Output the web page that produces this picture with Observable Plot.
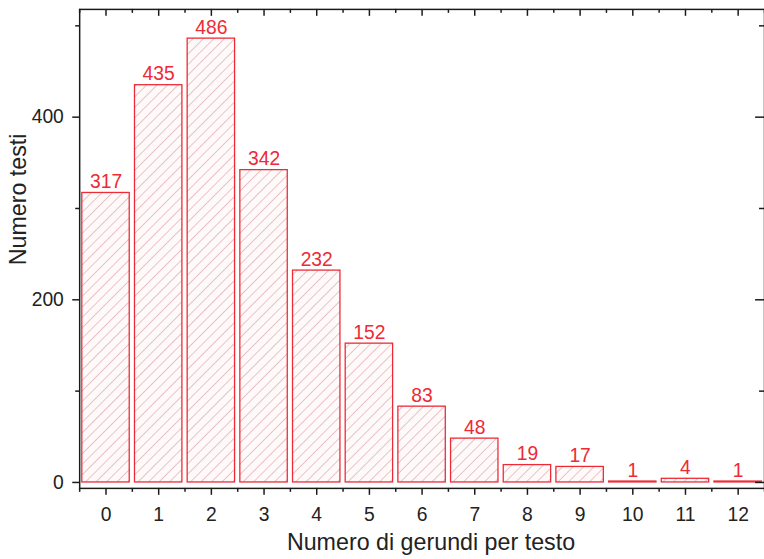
<!DOCTYPE html>
<html><head><meta charset="utf-8">
<script src="https://cdn.jsdelivr.net/npm/d3@7"></script>
<script src="https://cdn.jsdelivr.net/npm/@observablehq/plot@0.6"></script>
<style>
html,body{margin:0;padding:0;background:#fff;overflow:hidden;width:764px;height:559px}
</style>
</head><body><div id="chart"></div>
<script>
// Data
const gerundi = [0, 1, 2, 3, 4, 5, 6, 7, 8, 9, 10, 11, 12];
const testi = [317, 435, 486, 342, 232, 152, 83, 48, 19, 17, 1, 4, 1];
const yMajorTicks = [0, 200, 400];
const yMinorTicks = [100, 300, 500];
const xMinorTicks = [-0.5, 0.5, 1.5, 2.5, 3.5, 4.5, 5.5, 6.5, 7.5, 8.5, 9.5, 10.5, 11.5, 12.5];
const xTitle = "Numero di gerundi per testo";
const yTitle = "Numero testi";

const rows = gerundi.map((g, i) => ({g, n: testi[i]}));

const W = 772, H = 559, ML = 80, MR = 0, MT = 9, MB = 66;
const innerW = W - ML - MR, innerH = H - MT - MB;
const axisColor = "#1a1a1a";
const red = "#ee2a36";

const svg = Plot.plot({
  width: W, height: H,
  marginLeft: ML, marginRight: MR, marginTop: MT, marginBottom: MB,
  style: {fontFamily: "'Liberation Sans', Arial, sans-serif", fontSize: "19px", color: "#222", background: "#fff", overflow: "visible"},
  x: {type: "linear", domain: [-0.5, 12.5]},
  y: {domain: [-6.5, 518]},
  marks: [
    Plot.rectY(rows, {x1: d => d.g - 0.45, x2: d => d.g + 0.45, y: "n", fill: "url(#hatch)", stroke: red, strokeWidth: 1.3}),
    Plot.text(rows, {x: "g", y: "n", text: d => String(d.n), fill: red, fontSize: 19.5, lineAnchor: "bottom", dy: -5}),
    Plot.frame({stroke: axisColor, strokeWidth: 1.5}),
    // bottom axis
    Plot.axisX({ticks: gerundi, tickSize: 7, tickPadding: 12, fontSize: 19.5, tickFormat: d => String(d), label: null, stroke: axisColor, strokeWidth: 1.5, fill: "#222"}),
    Plot.axisX({ticks: xMinorTicks, tickSize: 4, tickFormat: () => "", label: null, stroke: axisColor, strokeWidth: 1.5}),
    // left axis
    Plot.axisY({ticks: yMajorTicks, tickSize: 7, tickPadding: 9, fontSize: 19.5, tickFormat: d => String(d), label: null, stroke: axisColor, strokeWidth: 1.5, fill: "#222"}),
    Plot.axisY({ticks: yMinorTicks, tickSize: 4, tickFormat: () => "", label: null, stroke: axisColor, strokeWidth: 1.5}),
    // top inward ticks
    Plot.tickX(gerundi, {x: d => d, insetBottom: innerH - 7, stroke: axisColor, strokeWidth: 1.5}),
    Plot.tickX(xMinorTicks, {x: d => d, insetBottom: innerH - 4, stroke: axisColor, strokeWidth: 1.5}),
    // right inward ticks
    Plot.tickY(yMajorTicks, {y: d => d, insetLeft: innerW - 9, stroke: axisColor, strokeWidth: 1.5}),
    Plot.tickY(yMinorTicks, {y: d => d, insetLeft: innerW - 5, stroke: axisColor, strokeWidth: 1.5}),
    // titles
    Plot.text([xTitle], {frameAnchor: "bottom", dy: 62, dx: 9, fontSize: 23.5, fill: "#222"}),
    Plot.text([yTitle], {frameAnchor: "left", textAnchor: "middle", dx: -62, dy: -50, rotate: -90, fontSize: 23.5, fill: "#222"})
  ]
});

const defs = d3.select(svg).insert("defs", ":first-child");
const pat = defs.append("pattern")
  .attr("id", "hatch")
  .attr("patternUnits", "userSpaceOnUse")
  .attr("width", 7.5).attr("height", 7.5)
  .attr("patternTransform", "rotate(45)");
pat.append("rect").attr("width", 7.5).attr("height", 7.5).attr("fill", "#fffafa");
pat.append("line").attr("x1", 0).attr("y1", 0).attr("x2", 0).attr("y2", 7.5)
  .attr("stroke", "#d98a91").attr("stroke-width", 1);

document.getElementById("chart").appendChild(svg);
</script>
</body></html>
